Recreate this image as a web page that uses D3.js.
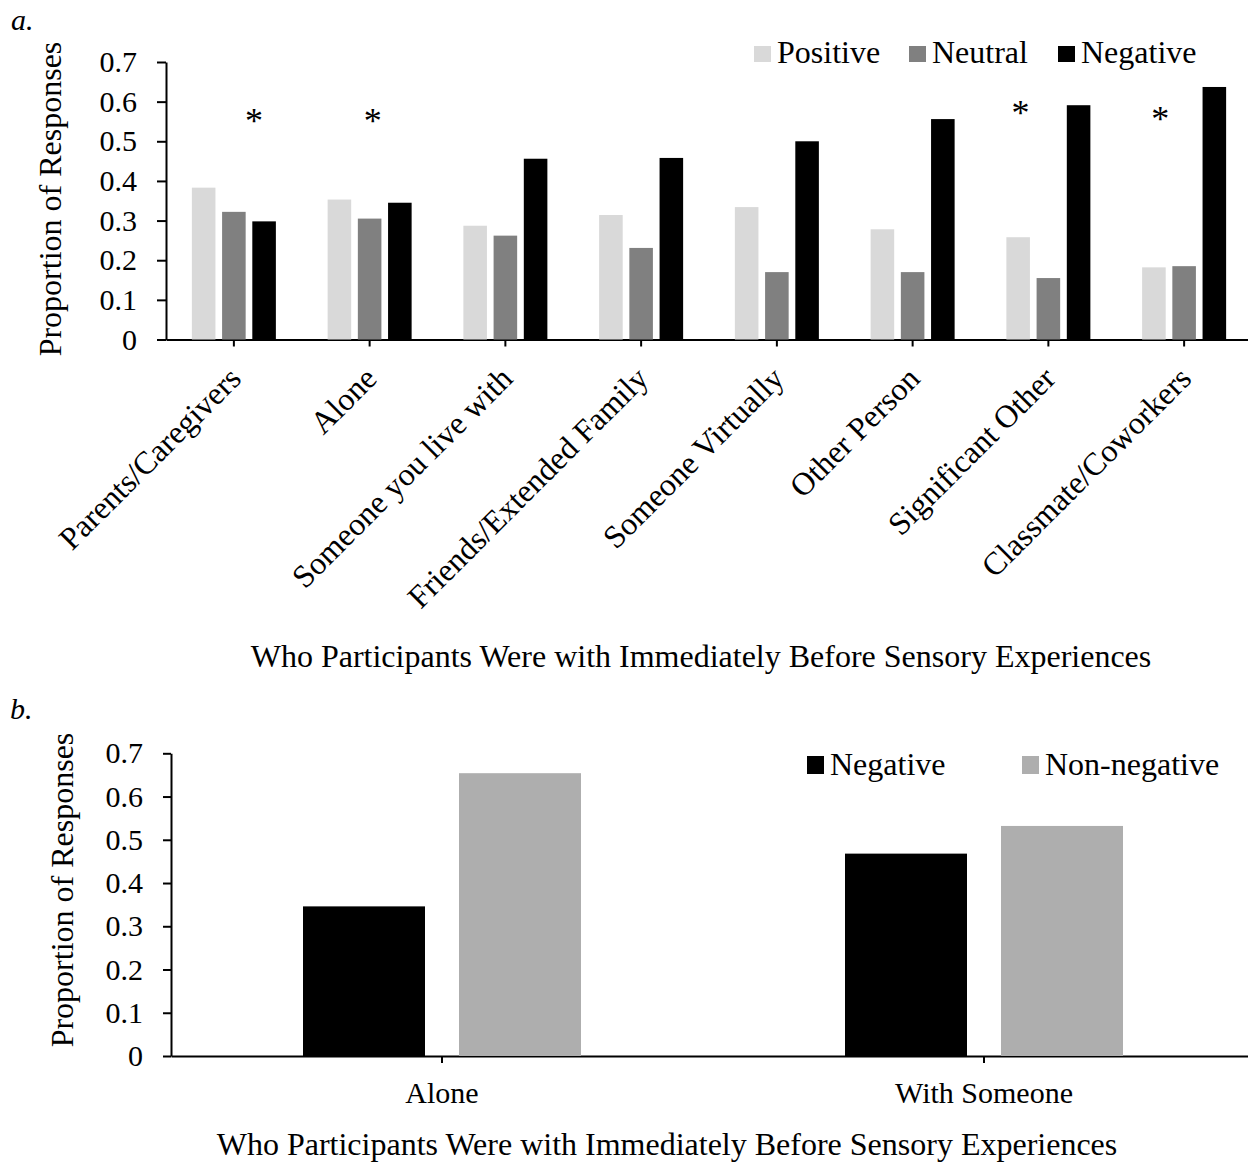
<!DOCTYPE html>
<html>
<head>
<meta charset="utf-8">
<script src="https://cdn.jsdelivr.net/npm/d3@7"></script>
<style>
  html, body { margin: 0; padding: 0; background: #fff; }
  svg { display: block; }
  text { font-family: "Liberation Serif", "Times New Roman", serif; fill: #000; }
</style>
</head>
<body>
<script>
// ---- Panel a: who participants were with, by valence ----
const categoriesA = [
  "Parents/Caregivers", "Alone", "Someone you live with", "Friends/Extended Family",
  "Someone Virtually", "Other Person", "Significant Other", "Classmate/Coworkers"
];
const seriesA = ["Positive", "Neutral", "Negative"];
const positiveA = [0.383, 0.353, 0.287, 0.314, 0.334, 0.278, 0.258, 0.182];
const neutralA  = [0.322, 0.305, 0.262, 0.231, 0.170, 0.170, 0.155, 0.185];
const negativeA = [0.298, 0.345, 0.456, 0.458, 0.500, 0.556, 0.591, 0.637];
const significantA = ["Parents/Caregivers", "Alone", "Significant Other", "Classmate/Coworkers"];

// ---- Panel b: alone vs. with someone ----
const categoriesB = ["Alone", "With Someone"];
const seriesB = ["Negative", "Non-negative"];
const negativeB    = [0.346, 0.468];
const nonNegativeB = [0.654, 0.532];

const yTicks = [0, 0.1, 0.2, 0.3, 0.4, 0.5, 0.6, 0.7];
const xTitle = "Who Participants Were with Immediately Before Sensory Experiences";
const yTitle = "Proportion of Responses";

const W = 1248, H = 1165;
const svg = d3.select("body").append("svg").attr("width", W).attr("height", H);
svg.append("rect").attr("width", W).attr("height", H).attr("fill", "#fff");

function styleAxis(g) {
  g.selectAll("path.domain").attr("stroke", "#000").attr("stroke-width", 2);
  g.selectAll(".tick line").attr("stroke", "#000").attr("stroke-width", 2);
  g.selectAll(".tick text").attr("font-family", "'Liberation Serif', 'Times New Roman', serif")
    .attr("font-size", 30).attr("fill", "#000");
}

// ================= Panel a =================
{
  const rowsA = categoriesA.map((c, i) => ({
    cat: c, Positive: positiveA[i], Neutral: neutralA[i], Negative: negativeA[i]
  }));
  const colorA = d3.scaleOrdinal().domain(seriesA).range(["#d9d9d9", "#808080", "#000000"]);

  const x = d3.scaleBand().domain(categoriesA).range([166, 1252]);
  const x1 = d3.scaleBand().domain(seriesA).range([-42, 42]).paddingInner(0.22).paddingOuter(0);
  const y = d3.scaleLinear().domain([0, 0.7]).range([339.5, 62]);

  const gx = svg.append("g").attr("transform", "translate(0,339.5)")
    .call(d3.axisBottom(x).tickSize(7).tickSizeOuter(0).tickFormat(""));
  styleAxis(gx);

  // rotated category labels
  svg.append("g").selectAll("text").data(categoriesA).join("text")
    .attr("transform", d => `translate(${x(d) + x.bandwidth() / 2 + 9},${339.5 + 41}) rotate(-45)`)
    .attr("text-anchor", "end")
    .attr("font-size", 32)
    .text(d => d);

  const gy = svg.append("g").attr("transform", "translate(166,0)")
    .call(d3.axisLeft(y).tickValues(yTicks).tickSize(9).tickPadding(20).tickSizeOuter(0)
      .tickFormat(d => d === 0 ? "0" : d3.format(".1f")(d)));
  styleAxis(gy);

  svg.append("g").selectAll("g").data(rowsA).join("g")
    .attr("transform", d => `translate(${x(d.cat) + x.bandwidth() / 2},0)`)
    .selectAll("rect").data(d => seriesA.map(s => ({ s, v: d[s] }))).join("rect")
      .attr("x", d => x1(d.s))
      .attr("width", x1.bandwidth())
      .attr("y", d => y(d.v))
      .attr("height", d => y(0) - y(d.v))
      .attr("fill", d => colorA(d.s));

  // significance markers
  const starShift = { "Parents/Caregivers": 20, "Alone": 3, "Significant Other": -28, "Classmate/Coworkers": -24 };
  const starLevel = { "Parents/Caregivers": 0.56, "Alone": 0.56, "Significant Other": 0.578, "Classmate/Coworkers": 0.563 };
  svg.append("g").selectAll("text").data(significantA).join("text")
    .attr("x", d => x(d) + x.bandwidth() / 2 + starShift[d])
    .attr("y", d => y(starLevel[d]) + 15)
    .attr("text-anchor", "middle")
    .attr("font-size", 36)
    .text("*");

  // legend
  const legA = [{ s: "Positive", x: 754 }, { s: "Neutral", x: 909 }, { s: "Negative", x: 1058 }];
  const lg = svg.append("g");
  lg.selectAll("rect").data(legA).join("rect")
    .attr("x", d => d.x).attr("y", 46).attr("width", 17).attr("height", 16)
    .attr("fill", d => colorA(d.s));
  lg.selectAll("text").data(legA).join("text")
    .attr("x", d => d.x + 23).attr("y", 63).attr("font-size", 32)
    .text(d => d.s);

  svg.append("text").attr("x", 50).attr("y", 199)
    .attr("transform", "rotate(-90,50,199)")
    .attr("text-anchor", "middle").attr("dy", "0.35em")
    .attr("font-size", 32).text(yTitle);

  svg.append("text").attr("x", 701).attr("y", 667)
    .attr("text-anchor", "middle").attr("font-size", 32).text(xTitle);

  svg.append("text").attr("x", 11).attr("y", 30)
    .attr("font-size", 30).attr("font-style", "italic").text("a.");
}

// ================= Panel b =================
{
  const rowsB = categoriesB.map((c, i) => ({ cat: c, "Negative": negativeB[i], "Non-negative": nonNegativeB[i] }));
  const colorB = d3.scaleOrdinal().domain(seriesB).range(["#000000", "#aeaeae"]);

  const x = d3.scaleBand().domain(categoriesB).range([171, 1255]);
  const x1 = d3.scaleBand().domain(seriesB).range([-139, 139]).paddingInner(0.218).paddingOuter(0);
  const y = d3.scaleLinear().domain([0, 0.7]).range([1056, 753.3]);

  const gx = svg.append("g").attr("transform", "translate(0,1056)")
    .call(d3.axisBottom(x).tickSize(7).tickSizeOuter(0).tickFormat(""));
  styleAxis(gx);

  svg.append("g").selectAll("text").data(categoriesB).join("text")
    .attr("x", d => x(d) + x.bandwidth() / 2)
    .attr("y", 1103)
    .attr("text-anchor", "middle").attr("font-size", 30)
    .text(d => d);

  const gy = svg.append("g").attr("transform", "translate(171,0)")
    .call(d3.axisLeft(y).tickValues(yTicks).tickSize(8).tickPadding(20).tickSizeOuter(0)
      .tickFormat(d => d === 0 ? "0" : d3.format(".1f")(d)));
  styleAxis(gy);

  svg.append("g").selectAll("g").data(rowsB).join("g")
    .attr("transform", d => `translate(${x(d.cat) + x.bandwidth() / 2},0)`)
    .selectAll("rect").data(d => seriesB.map(s => ({ s, v: d[s] }))).join("rect")
      .attr("x", d => x1(d.s))
      .attr("width", x1.bandwidth())
      .attr("y", d => y(d.v))
      .attr("height", d => y(0) - y(d.v))
      .attr("fill", d => colorB(d.s));

  const legB = [{ s: "Negative", x: 807 }, { s: "Non-negative", x: 1022 }];
  const lg = svg.append("g");
  lg.selectAll("rect").data(legB).join("rect")
    .attr("x", d => d.x).attr("y", 756).attr("width", 17).attr("height", 18)
    .attr("fill", d => colorB(d.s));
  lg.selectAll("text").data(legB).join("text")
    .attr("x", d => d.x + 23).attr("y", 775).attr("font-size", 32)
    .text(d => d.s);

  svg.append("text").attr("x", 62).attr("y", 890)
    .attr("transform", "rotate(-90,62,890)")
    .attr("text-anchor", "middle").attr("dy", "0.35em")
    .attr("font-size", 32).text(yTitle);

  svg.append("text").attr("x", 667).attr("y", 1155)
    .attr("text-anchor", "middle").attr("font-size", 32).text(xTitle);

  svg.append("text").attr("x", 10).attr("y", 719)
    .attr("font-size", 30).attr("font-style", "italic").text("b.");
}
</script>
</body>
</html>
